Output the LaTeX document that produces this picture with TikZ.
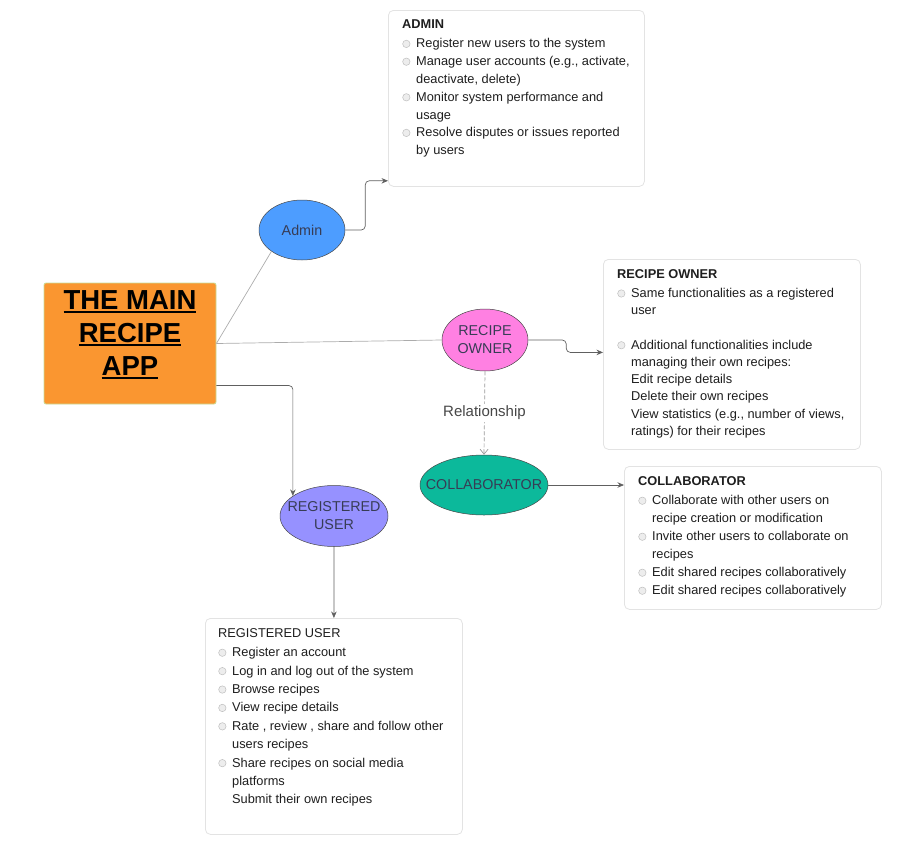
\documentclass[tikz,border=0pt]{standalone}
\usepackage{fontspec}
\setmainfont{Liberation Sans}
\usetikzlibrary{arrows.meta,shapes.geometric}
\definecolor{mainorange}{RGB}{250,150,48}
\definecolor{mainedge}{RGB}{200,220,150}
\definecolor{adminblue}{RGB}{77,157,255}
\definecolor{ownerpink}{RGB}{255,128,226}
\definecolor{collabteal}{RGB}{12,185,155}
\definecolor{regviolet}{RGB}{150,145,255}
\definecolor{txtdark}{RGB}{30,30,30}
\definecolor{ovaltext}{RGB}{55,60,85}
\newcommand\bulletdot{\tikz[baseline=-3.9pt]{\path[draw=gray!50,fill=gray!14,line width=0.5pt] (0pt,0pt) circle (3.7pt);}}
\newcommand\brk{\hfil\break}
\newcommand\bitem[1]{\par\hangindent=14pt\hangafter=1\noindent\makebox[14pt][l]{\hspace{0.2pt}\bulletdot}#1}
\newcommand\ulbox[1]{\setbox0\hbox{#1}\rlap{\rule[-4.2pt]{\wd0}{2.2pt}}\box0}
\tikzset{
  card/.style={draw=gray!22,line width=0.8pt,fill=white,rounded corners=5pt,anchor=north west,inner sep=0pt},
  cardtext/.style={anchor=north west,inner sep=0pt,text=txtdark},
  oval/.style={ellipse,draw=gray!55!black,line width=0.5pt,inner sep=0pt},
  ovallabel/.style={inner sep=0pt,text=ovaltext,align=center,font=\fontsize{14.3}{18}\selectfont},
  conn/.style={draw=gray!75!black,line width=0.7pt,rounded corners=4pt},
  arr/.style={-{Stealth[length=6.5pt,width=5.5pt]}}
}
\begin{document}
\begin{tikzpicture}[x=1pt,y=-1pt]
\useasboundingbox (0,0) rectangle (911,852);

% main box
\node[fill=mainorange,draw=mainedge,line width=0.8pt,rounded corners=2pt,minimum width=172pt,minimum height=121pt,inner sep=0pt] (main) at (130,343.5) {};
\node[anchor=north,align=center,inner sep=0pt,font=\fontsize{27.5}{33}\selectfont\bfseries] (maintitle) at (130,290) {\ulbox{THE MAIN}\\\ulbox{RECIPE}\\\ulbox{APP}};

% ovals
\node[oval,fill=adminblue,minimum width=86pt,minimum height=60pt] (admin) at (302,230) {};
\node[ovallabel] (adminlbl) at (admin.center) {Admin};
\node[oval,fill=ownerpink,minimum width=86pt,minimum height=62pt] (owner) at (485,340) {};
\node[ovallabel] (ownerlbl) at (owner.center) {RECIPE\\OWNER};
\node[oval,fill=collabteal,minimum width=128pt,minimum height=60pt] (collab) at (484,485) {};
\node[ovallabel] (collablbl) at (collab.center) {COLLABORATOR};
\node[oval,fill=regviolet,minimum width=108pt,minimum height=61pt] (reg) at (334,516) {};
\node[ovallabel] (reglbl) at (reg.center) {REGISTERED\\USER};

% cards
\node[card,minimum width=256pt,minimum height=176pt] (adminbox) at (388,10) {};
\node[card,minimum width=257pt,minimum height=190pt] (ownerbox) at (603,259) {};
\node[card,minimum width=257pt,minimum height=143pt] (collabbox) at (624,466) {};
\node[card,minimum width=257pt,minimum height=216pt] (regbox) at (205,618) {};

\node[cardtext] (admintxt) at (402,19.5) {\begin{minipage}[t]{240pt}\fontsize{12.8}{17.8}\selectfont\raggedright
\textbf{ADMIN}\par\vspace{1.5pt}
\bitem{Register new users to the system}
\bitem{Manage user accounts (e.g., activate,\brk deactivate, delete)}
\bitem{Monitor system performance and\brk usage}
\bitem{Resolve disputes or issues reported\brk by users}
\end{minipage}};

\node[cardtext] (ownertxt) at (617,269.5) {\begin{minipage}[t]{240pt}\fontsize{12.8}{17.25}\selectfont\raggedright
\textbf{RECIPE OWNER}\par\vspace{1.5pt}
\bitem{Same functionalities as a registered\brk user\brk\mbox{}}
\bitem{Additional functionalities include\brk managing their own recipes:\brk Edit recipe details\brk Delete their own recipes\brk View statistics (e.g., number of views,\brk ratings) for their recipes}
\end{minipage}};

\node[cardtext] (collabtxt) at (638,476.5) {\begin{minipage}[t]{240pt}\fontsize{12.8}{18}\selectfont\raggedright
\textbf{COLLABORATOR}\par\vspace{1pt}
\bitem{Collaborate with other users on\brk recipe creation or modification}
\bitem{Invite other users to collaborate on\brk recipes}
\bitem{Edit shared recipes collaboratively}
\bitem{Edit shared recipes collaboratively}
\end{minipage}};

\node[cardtext] (regtxt) at (218,628.5) {\begin{minipage}[t]{240pt}\fontsize{12.8}{18.4}\selectfont\raggedright
REGISTERED USER\par\vspace{0.6pt}
\bitem{Register an account}
\bitem{Log in and log out of the system}
\bitem{Browse recipes}
\bitem{View recipe details}
\bitem{Rate , review , share and follow other\brk users recipes}
\bitem{Share recipes on social media\brk platforms\brk Submit their own recipes}
\end{minipage}};

% connectors
\draw[conn,draw=gray!65] (main.east) -- (admin.215);
\draw[conn,draw=gray!65] (main.east) -- (owner.west);
\draw[conn,arr] (admin.east) -- ++(20,0) |- ([yshift=6pt]adminbox.south west);
\draw[conn,arr] (owner.east) -- ++(38,0) |- ([yshift=2pt]ownerbox.west);
\draw[conn,arr] (collab.east) -- (collab.east -| collabbox.west);
\draw[conn,arr] ([yshift=-42pt]main.east) -| (reg.154);
\draw[conn,arr] (reg.south) -- (regbox.north);
\draw[draw=gray!80,line width=0.7pt,dash pattern=on 4pt off 2pt,-{Straight Barb[length=5pt,width=8pt]}] (owner.south) -- node[fill=white,inner sep=2pt,text=black!72,font=\fontsize{15}{17}\selectfont] (rel) {Relationship} (collab.north);
\end{tikzpicture}
\end{document}
